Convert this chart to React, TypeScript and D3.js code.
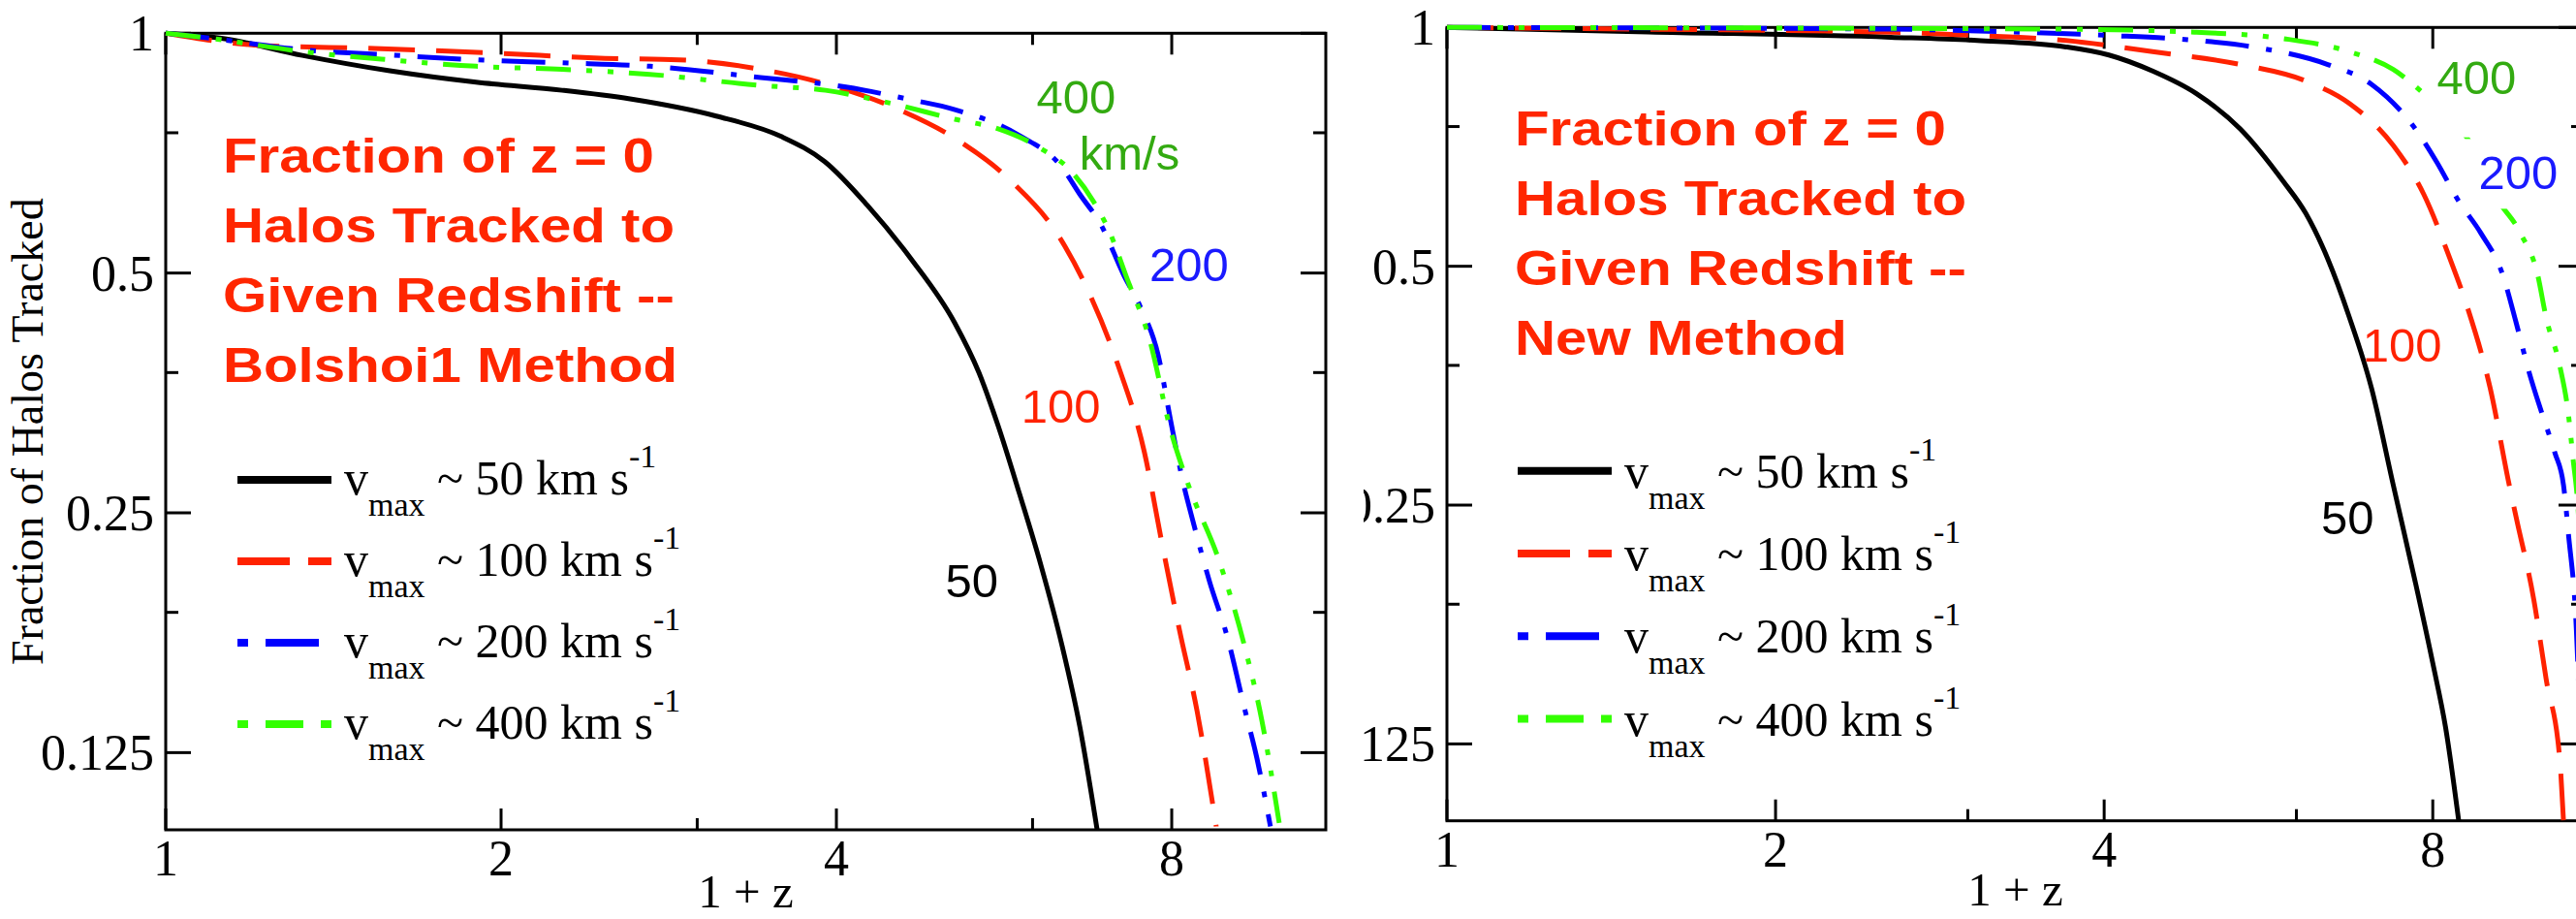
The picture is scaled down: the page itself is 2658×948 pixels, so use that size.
import React, { useEffect, useRef } from 'react'
import * as d3 from 'd3'

// axis ticks (1 + z on x, fraction on y, both log2)
const xTicks = [1, 2, 4, 8]
const xMinorTicks = [3, 6]
const yTicks = [1, 0.5, 0.25, 0.125]
const yMinorTicks = [0.75, 0.375, 0.1875]
const yTickLabels = ['1', '0.5', '0.25', '0.125']

const vmaxNames = ['50', '100', '200', '400']
const lineColors = ['#000000', '#ff2200', '#0000ff', '#33ff00']
const plotDashes = [null, '48,22', '45,18,6,18', '36,16,6,16,6,16']

// Bolshoi1 method, [1+z, fraction]
const bolshoi50 = [[1, 1], [1.13, 0.984], [1.326, 0.938], [1.589, 0.897], [1.899, 0.868], [2.269, 0.848], [2.611, 0.827], [3.12, 0.787], [3.569, 0.742], [3.905, 0.69], [4.265, 0.608], [4.667, 0.521], [5.108, 0.433], [5.37, 0.375], [5.59, 0.321], [5.841, 0.264], [6.104, 0.215], [6.379, 0.17], [6.614, 0.135], [6.857, 0.1]]
const bolshoi100 = [[1, 1], [1.21, 0.966], [1.54, 0.957], [1.98, 0.944], [2.48, 0.93], [2.89, 0.926], [3.42, 0.901], [3.91, 0.864], [4.55, 0.802], [5.11, 0.738], [5.74, 0.652], [6.33, 0.557], [6.73, 0.475], [7.16, 0.383], [7.56, 0.298], [7.84, 0.229], [8.13, 0.178], [8.43, 0.141], [8.77, 0.101]]
const bolshoi200 = [[1, 1], [1.1, 0.985], [1.33, 0.953], [1.59, 0.939], [1.9, 0.926], [2.27, 0.918], [2.72, 0.909], [3.42, 0.88], [4.08, 0.856], [4.67, 0.825], [5.11, 0.802], [5.84, 0.744], [6.38, 0.678], [6.61, 0.629], [6.92, 0.573], [7.24, 0.498], [7.5, 0.453], [7.78, 0.394], [7.98, 0.327], [8.2, 0.271], [8.34, 0.247], [8.65, 0.205], [8.97, 0.175], [9.3, 0.142], [9.54, 0.123], [9.81, 0.101]]
const bolshoi400 = [[1, 1], [1.1, 0.985], [1.33, 0.948], [1.59, 0.926], [1.9, 0.909], [2.27, 0.901], [2.72, 0.888], [3.42, 0.86], [3.91, 0.848], [4.47, 0.817], [5.11, 0.78], [5.58, 0.759], [6.1, 0.717], [6.5, 0.671], [6.8, 0.616], [7.04, 0.562], [7.29, 0.493], [7.64, 0.413], [7.98, 0.318], [8.28, 0.271], [8.81, 0.219], [9.3, 0.17], [9.64, 0.137], [9.99, 0.102]]

// new method
const new50 = [[1, 1], [1.53, 0.987], [2.55, 0.972], [3.06, 0.963], [3.69, 0.945], [4.04, 0.923], [4.43, 0.881], [4.86, 0.825], [5.33, 0.745], [5.84, 0.639], [6.12, 0.583], [6.41, 0.511], [6.71, 0.431], [7.03, 0.351], [7.36, 0.265], [7.71, 0.2], [8.0, 0.158], [8.22, 0.131], [8.45, 0.1]]
const new100 = [[1, 1], [1.5, 0.995], [2.55, 0.986], [3.06, 0.977], [3.69, 0.963], [4.43, 0.932], [5.33, 0.898], [6.12, 0.856], [6.71, 0.802], [7.36, 0.71], [7.85, 0.616], [8.3, 0.51], [8.61, 0.443], [9.03, 0.351], [9.4, 0.265], [9.54, 0.241], [9.9, 0.19], [10.16, 0.151], [10.46, 0.119], [10.54, 0.1]]
const new200 = [[1, 1], [2.55, 0.995], [3.35, 0.986], [4.04, 0.977], [4.86, 0.963], [5.58, 0.941], [6.41, 0.898], [7.03, 0.848], [7.71, 0.745], [8.07, 0.676], [8.45, 0.604], [8.85, 0.551], [9.27, 0.488], [9.54, 0.424], [9.8, 0.368], [10.08, 0.325], [10.35, 0.291], [10.54, 0.265], [10.65, 0.23], [10.83, 0.174], [10.98, 0.1]]
const new400 = [[1, 1], [3.69, 0.995], [4.86, 0.986], [5.84, 0.968], [6.71, 0.932], [7.36, 0.885], [7.85, 0.825], [8.3, 0.766], [8.61, 0.724], [9.1, 0.616], [9.62, 0.551], [9.98, 0.488], [10.16, 0.431], [10.46, 0.374], [10.65, 0.325], [10.74, 0.291], [10.91, 0.223], [11.0, 0.15]]

const bolshoiTitle = ['Fraction of z = 0', 'Halos Tracked to', 'Given Redshift --', 'Bolshoi1 Method']
const newTitle = ['Fraction of z = 0', 'Halos Tracked to', 'Given Redshift --', 'New Method']

const bolshoiNotes = [
  { text: '400', x: 6.05, y: 0.794, color: '#33aa11' },
  { text: 'km/s', x: 6.61, y: 0.674, color: '#33aa11' },
  { text: '200', x: 7.64, y: 0.489, color: '#1a1aff' },
  { text: '100', x: 5.86, y: 0.324, color: '#ff2200' },
  { text: '50', x: 5.01, y: 0.196, color: '#000000' },
]
const newNotes = [
  { text: '400', x: 8.07, y: 0.825, color: '#33aa11', pad: [12, 0, 4, 35] },
  { text: '200', x: 8.81, y: 0.625, color: '#1a1aff', pad: [16, 8, 4, 10] },
  { text: '100', x: 6.9, y: 0.379, color: '#ff2200' },
  { text: '50', x: 6.32, y: 0.23, color: '#000000' },
]

const SERIF = '"Liberation Serif", "Times New Roman", serif'
const SANS = '"Liberation Sans", Arial, Helvetica, sans-serif'

const panels = [
  {
    id: 'bolshoi', left: 171, right: 1368, top: 34.3, bottom: 856,
    series: [bolshoi50, bolshoi100, bolshoi200, bolshoi400],
    title: bolshoiTitle, titleX: 230, titleY: 178.3,
    legendX: 245, legendY: 495, legendStep: 84, legendTextDy: 15,
    notes: bolshoiNotes, yLabel: true, xLabelDy: 80, cutX: null,
  },
  {
    id: 'newmethod', left: 1493, right: 2666, top: 28.3, bottom: 846.7,
    series: [new50, new100, new200, new400],
    title: newTitle, titleX: 1563, titleY: 150,
    legendX: 1566, legendY: 485.7, legendStep: 85.3, legendTextDy: 17,
    notes: newNotes, yLabel: false, xLabelDy: 87, cutX: 1407,
  },
]

function drawPanel(svg, defs, p) {
  const x = d3.scaleLog().base(2).domain([1, 11]).range([p.left, p.right])
  const y = d3.scaleLog().base(2).domain([0.1, 1]).range([p.bottom, p.top])

  const root = svg.append('g')
  if (p.cutX) {
    defs.append('clipPath').attr('id', `${p.id}-cut`)
      .append('rect').attr('x', p.cutX).attr('y', 0).attr('width', 3000).attr('height', 1000)
    root.attr('clip-path', `url(#${p.id}-cut)`)
  }

  // frame
  root.append('rect')
    .attr('x', p.left).attr('y', p.top)
    .attr('width', p.right - p.left).attr('height', p.bottom - p.top)
    .attr('fill', 'none').attr('stroke', '#000').attr('stroke-width', 3)

  const ticks = root.append('g').attr('stroke', '#000').attr('stroke-width', 3)
  const xt = xTicks.map(v => ({ v, len: 22 })).concat(xMinorTicks.map(v => ({ v, len: 12 })))
  xt.forEach(t => {
    ticks.append('line').attr('x1', x(t.v)).attr('x2', x(t.v)).attr('y1', p.bottom).attr('y2', p.bottom - t.len)
    ticks.append('line').attr('x1', x(t.v)).attr('x2', x(t.v)).attr('y1', p.top).attr('y2', p.top + t.len)
  })
  const yt = yTicks.map(v => ({ v, len: 26 })).concat(yMinorTicks.map(v => ({ v, len: 13 })))
  yt.forEach(t => {
    ticks.append('line').attr('x1', p.left).attr('x2', p.left + t.len).attr('y1', y(t.v)).attr('y2', y(t.v))
    ticks.append('line').attr('x1', p.right).attr('x2', p.right - t.len).attr('y1', y(t.v)).attr('y2', y(t.v))
  })

  // tick labels
  root.append('g').selectAll('text').data(xTicks).enter().append('text')
    .attr('x', d => x(d)).attr('y', p.bottom + 47)
    .attr('text-anchor', 'middle')
    .style('font-family', SERIF).style('font-size', '52px')
    .text(d => d)
  root.append('g').selectAll('text').data(yTicks).enter().append('text')
    .attr('x', p.left - 12).attr('y', d => y(d) + 18)
    .attr('text-anchor', 'end')
    .style('font-family', SERIF).style('font-size', '52px')
    .text((d, i) => yTickLabels[i])

  root.append('text')
    .attr('x', (p.left + p.right) / 2).attr('y', p.bottom + p.xLabelDy)
    .attr('text-anchor', 'middle')
    .style('font-family', SERIF).style('font-size', '49px')
    .text('1 + z')

  if (p.yLabel) {
    root.append('text')
      .attr('transform', `translate(44,${(p.top + p.bottom) / 2}) rotate(-90)`)
      .attr('text-anchor', 'middle')
      .style('font-family', SERIF).style('font-size', '46px')
      .text('Fraction of Halos Tracked')
  }

  // curves
  defs.append('clipPath').attr('id', `${p.id}-plot`)
    .append('rect')
    .attr('x', p.left - 4).attr('y', p.top - 5)
    .attr('width', p.right - p.left + 8).attr('height', p.bottom - p.top + 6)
  const line = d3.line().x(d => x(d[0])).y(d => y(d[1])).curve(d3.curveMonotoneX)
  const curves = root.append('g').attr('clip-path', `url(#${p.id}-plot)`)
  p.series.forEach((s, i) => {
    curves.append('path')
      .attr('d', line(s))
      .attr('fill', 'none')
      .attr('stroke', lineColors[i])
      .attr('stroke-width', 5)
      .attr('stroke-dasharray', plotDashes[i])
  })

  // curve labels
  p.notes.forEach(n => {
    const t = root.append('text')
      .attr('x', x(n.x)).attr('y', y(n.y))
      .style('font-family', SANS).style('font-size', '49px')
      .attr('fill', n.color)
      .text(n.text)
    if (n.pad) {
      const bb = t.node().getBBox()
      root.insert('rect', () => t.node())
        .attr('x', bb.x - n.pad[0]).attr('y', bb.y - n.pad[1])
        .attr('width', bb.width + n.pad[0] + n.pad[2])
        .attr('height', bb.height + n.pad[1] + n.pad[3])
        .attr('fill', '#fff')
    }
  })

  // title
  p.title.forEach((s, i) => {
    root.append('text')
      .attr('transform', `translate(${p.titleX},${p.titleY + i * 72}) scale(1.165,1)`)
      .attr('fill', '#ff2600')
      .style('font-family', SANS).style('font-size', '50px').style('font-weight', 'bold')
      .text(s)
  })

  // legend
  const legendDash = [null, '54,19', '11,18,55,18', '39,18,11,18,11,18']
  const legendOffset = [0, 0, 0, 86]
  vmaxNames.forEach((name, i) => {
    const ly = p.legendY + i * p.legendStep
    root.append('line')
      .attr('x1', p.legendX).attr('x2', p.legendX + 97)
      .attr('y1', ly).attr('y2', ly)
      .attr('stroke', lineColors[i]).attr('stroke-width', 8)
      .attr('stroke-dasharray', legendDash[i])
      .attr('stroke-dashoffset', legendOffset[i])
    const t = root.append('text')
      .attr('x', p.legendX + 110).attr('y', ly + p.legendTextDy)
      .style('font-family', SERIF).style('font-size', '50px')
      .style('white-space', 'pre')
    t.append('tspan').text('v')
    t.append('tspan').attr('dy', 22).style('font-size', '34px').text('max')
    t.append('tspan').attr('dy', -22).text(` ~ ${name} km s`)
    t.append('tspan').attr('dy', -28).style('font-size', '34px').text('-1')
  })
}

export default function App() {
  const ref = useRef(null)

  useEffect(() => {
    const svg = d3.select(ref.current)
    svg.selectAll('*').remove()
    svg.append('rect').attr('width', 2658).attr('height', 948).attr('fill', '#fff')
    const defs = svg.append('defs')
    panels.forEach(p => drawPanel(svg, defs, p))
  }, [])

  return (
    <>
      <style>{'body{margin:0;}'}</style>
      <svg ref={ref} width={2658} height={948} style={{ display: 'block' }} />
    </>
  )
}
